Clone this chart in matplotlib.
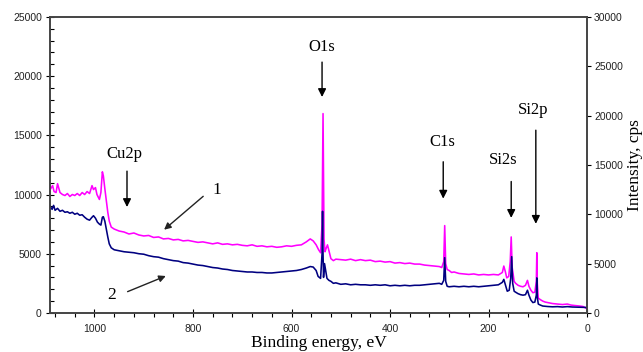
import numpy as np
import matplotlib
matplotlib.use("Agg")
import matplotlib.pyplot as plt
from matplotlib.ticker import MultipleLocator

# binding energy (eV) and intensity (cps)
e1 = [1090, 1085, 1082, 1078, 1075, 1070, 1065, 1060, 1055, 1050, 1045, 1040, 1035, 1030, 1025, 1020,
      1015, 1010, 1005, 1002, 998, 995, 990, 987, 984, 982, 979, 976, 973, 970, 966, 960, 950, 940, 930,
      920, 910, 900, 890, 880, 870, 860, 850, 840, 830, 820, 810, 800, 790, 780, 770, 760, 750, 740, 730,
      720, 710, 700, 690, 680, 670, 660, 650, 640, 630, 620, 610, 600, 590, 580, 570, 562, 556, 550, 545,
      541, 538, 537, 536, 535, 534, 532, 530, 527, 524, 520, 515, 510, 500, 490, 480, 470, 460, 450, 440,
      430, 420, 410, 400, 390, 380, 370, 360, 350, 340, 330, 320, 310, 300, 295, 291, 289, 287, 284, 280,
      275, 270, 260, 250, 240, 230, 220, 210, 200, 190, 180, 172, 169, 166, 163, 159, 156, 154, 152, 148,
      145, 140, 135, 130, 125, 121, 118, 114, 110, 106, 103, 102, 101, 99, 95, 90, 85, 80, 70, 60, 50, 40,
      33, 25, 15, 8, 3, 0]
i1 = [12500, 12900, 12300, 12200, 13100, 12200, 12000, 11900, 12100, 11800, 12000, 11900, 12100, 11900,
      12200, 12000, 12300, 12100, 12900, 12500, 12700, 12000, 11500, 12200, 14300, 13900, 12600, 11400,
      10200, 9300, 8700, 8500, 8300, 8200, 8000, 8100, 7900, 7800, 7850, 7650, 7700, 7500, 7550, 7400,
      7450, 7300, 7350, 7250, 7150, 7200, 7100, 7000, 7100, 6950, 7000, 6900, 6950, 6850, 6800, 6900, 6750,
      6800, 6700, 6750, 6650, 6700, 6800, 6750, 6850, 6900, 7200, 7500, 7300, 6900, 6400, 6100, 9000,
      15000, 20200, 14000, 7500, 6200, 6500, 6900, 6300, 5500, 5300, 5450, 5400, 5350, 5450, 5300, 5400,
      5300, 5350, 5200, 5250, 5150, 5200, 5050, 5100, 5000, 5050, 4950, 4950, 4850, 4800, 4750, 4700, 4600,
      5200, 8850, 5000, 4400, 4300, 4100, 4150, 4000, 3950, 3900, 3950, 3850, 3900, 3850, 3900, 3850, 4100,
      4750, 4200, 3550, 3700, 5200, 7700, 4600, 3200, 3000, 2800, 2700, 2650, 2800, 3300, 2700, 2300, 2050,
      2100, 3200, 6100, 3000, 1500, 1350, 1200, 1100, 1050, 950, 900, 850, 900, 800, 750, 700, 650, 500, 450]

e2 = [1090, 1086, 1083, 1080, 1075, 1070, 1065, 1060, 1055, 1050, 1045, 1040, 1035, 1030, 1025, 1020,
      1015, 1010, 1005, 1002, 998, 994, 990, 987, 984, 982, 979, 976, 973, 970, 966, 960, 950, 940, 930,
      920, 910, 900, 890, 880, 870, 860, 850, 840, 830, 820, 810, 800, 790, 780, 770, 760, 750, 740, 730,
      720, 710, 700, 690, 680, 670, 660, 650, 640, 630, 620, 610, 600, 590, 580, 570, 562, 556, 550, 546,
      541, 538, 537, 536, 535, 533, 531, 528, 524, 520, 515, 510, 500, 490, 480, 470, 460, 450, 440, 430,
      420, 410, 400, 390, 380, 370, 360, 350, 340, 330, 320, 310, 300, 295, 291, 289, 287, 284, 280, 270,
      260, 250, 240, 230, 220, 210, 200, 190, 180, 172, 169, 166, 162, 158, 155, 153, 151, 148, 145, 140,
      135, 130, 125, 121, 118, 114, 110, 106, 103, 102, 101, 99, 95, 90, 80, 70, 60, 50, 40, 30, 20, 10,
      3, 0]
i2 = [10800, 10500, 10900, 10400, 10600, 10300, 10400, 10200, 10250, 10100, 10200, 10000, 10100, 9900,
      9950, 9700, 9500, 9400, 9700, 9850, 9600, 9200, 9000, 8900, 9700, 9750, 9300, 8500, 7700, 7000, 6600,
      6400, 6300, 6200, 6150, 6100, 6000, 5950, 5800, 5700, 5650, 5500, 5400, 5300, 5250, 5100, 5050, 4950,
      4850, 4800, 4700, 4600, 4550, 4450, 4400, 4300, 4250, 4200, 4150, 4150, 4100, 4100, 4050, 4050, 4100,
      4150, 4200, 4250, 4300, 4400, 4550, 4700, 4650, 4300, 3700, 3500, 6000, 10300, 6000, 3600, 5000, 4400,
      3500, 3300, 3200, 3000, 3050, 2900, 2950, 2850, 2900, 2850, 2850, 2800, 2850, 2800, 2850, 2750, 2800,
      2750, 2800, 2750, 2800, 2800, 2850, 2900, 2950, 3000, 2900, 3300, 5600, 3200, 2700, 2650, 2700, 2650,
      2700, 2650, 2700, 2650, 2700, 2750, 2800, 2850, 3100, 3400, 2900, 2200, 2300, 3500, 5700, 3000, 2200,
      2100, 1950, 1850, 1800, 1850, 2300, 1800, 1300, 1050, 1100, 1800, 3550, 1600, 900, 800, 700, 650, 620,
      640, 600, 640, 600, 580, 570, 560, 500]

tick_family = "Liberation Sans"
serif = "Liberation Serif"

fig = plt.figure(figsize=(6.43, 3.52), dpi=100)
ax = fig.add_axes([0.078, 0.111, 0.835, 0.841])
ax2 = ax.twinx()

ax2.plot(e1, i1, color="#FF00FF", lw=1.15)
ax2.plot(e2, i2, color="#000080", lw=1.15)

ax.set_xlim(1090, 0)
ax.set_ylim(0, 25000)
ax2.set_ylim(0, 30000)

ax.xaxis.set_major_locator(MultipleLocator(200))
ax.xaxis.set_minor_locator(MultipleLocator(40))
ax.yaxis.set_major_locator(MultipleLocator(5000))
ax.yaxis.set_minor_locator(MultipleLocator(1000))
ax2.yaxis.set_major_locator(MultipleLocator(5000))

ax.tick_params(axis="y", which="major", direction="inout", length=6, width=0.8, pad=3)
ax.tick_params(axis="y", which="minor", direction="in", length=3, width=0.8)
ax.tick_params(axis="x", which="major", direction="inout", length=6, width=0.8, pad=5)
ax.tick_params(axis="x", which="minor", direction="out", length=3, width=0.8)
ax2.tick_params(axis="y", which="major", direction="out", length=3, width=0.8, pad=2)

for a in (ax, ax2):
    for sp in a.spines.values():
        sp.set_color("#444444")
        sp.set_linewidth(1.2)
    for lab in a.get_xticklabels() + a.get_yticklabels():
        lab.set_fontfamily(tick_family)
        lab.set_fontsize(7.5)
        lab.set_color("#222222")

ax.set_xlabel("Binding energy, eV", family=serif, fontsize=12.5, labelpad=1)
ax2.set_ylabel("Intensity, cps", family=serif, fontsize=12.5, labelpad=3)

# peak labels with arrows (data coordinates of right axis)
peaks = [("O1s", 538, 26950, 25700, 21600),
         ("C1s", 294, 17300, 15600, 11300),
         ("Si2s", 171, 15450, 13600, 9350),
         ("Si2p", 110, 20550, 18800, 8750),
         ("Cu2p", 940, 16100, 14650, 10450)]
arrow_x = {"O1s": 538, "C1s": 292, "Si2s": 154, "Si2p": 104, "Cu2p": 934}
for name, x, ty, y0, y1 in peaks:
    ax2.text(x, ty, name, family=serif, fontsize=12, ha="center", va="center")
    ax2.annotate("", xy=(arrow_x[name], y1), xytext=(arrow_x[name], y0),
                 arrowprops=dict(arrowstyle="-|>", color="black", lw=1.0, mutation_scale=12))

ax2.text(751, 12500, "1", family=serif, fontsize=12.5, ha="center", va="center")
ax2.annotate("", xy=(863, 8250), xytext=(775, 12000),
             arrowprops=dict(arrowstyle="-|>", color="#222222", lw=1.0, mutation_scale=10))
ax2.text(966, 1850, "2", family=serif, fontsize=12.5, ha="center", va="center")
ax2.annotate("", xy=(850, 3850), xytext=(938, 2050),
             arrowprops=dict(arrowstyle="-|>", color="#222222", lw=1.0, mutation_scale=10))

fig.savefig("out.png", dpi=100)
